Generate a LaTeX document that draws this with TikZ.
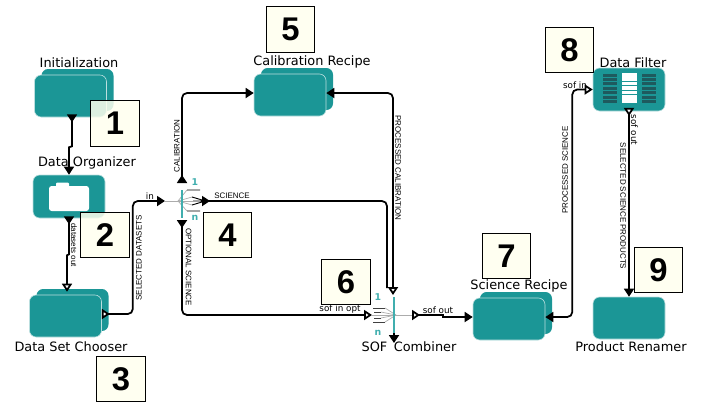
\documentclass[tikz,border=0pt]{standalone}
\usepackage{fontspec}
\setmainfont{DejaVu Sans}
\newfontfamily\narrowfont{Liberation Sans}
\usetikzlibrary{arrows.meta,shadows}

\definecolor{boxteal}{RGB}{27,150,150}
\definecolor{barteal}{RGB}{30,90,94}
\definecolor{portteal}{RGB}{64,174,174}
\definecolor{notecream}{RGB}{255,255,238}

\begin{document}
\begin{tikzpicture}[
    x=0.3mm, y=-0.3mm,
    actor/.style={rectangle, rounded corners=2mm, fill=boxteal, draw=white!70!boxteal, line width=0.5pt, minimum width=21.6mm, minimum height=12.6mm, inner sep=0pt},
    stacked/.style={actor, copy shadow={shadow xshift=2.1mm, shadow yshift=1.8mm, draw=none}},
    numbox/.style={rectangle, draw, line width=0.8pt, fill=notecream, fill opacity=0.85, text opacity=1, minimum width=14.6mm, minimum height=13.6mm, inner sep=0pt, font=\narrowfont\bfseries\fontsize{28}{28}\selectfont},
    title/.style={inner sep=0pt, font=\fontsize{11}{12}\selectfont},
    caplabel/.style={inner sep=0pt, font=\narrowfont\fontsize{6.8}{7}\selectfont},
    portlabel/.style={inner sep=0pt, font=\fontsize{7.5}{8}\selectfont},
    multi/.style={inner sep=0pt, text=portteal, font=\bfseries\fontsize{8}{9}\selectfont},
    wire/.style={line width=1.5pt, rounded corners=1.5mm},
    fan/.style={gray!65, line width=0.6pt},
    fulltri/.tip={Triangle[length=2.4mm, width=3mm]},
    opentri/.tip={Triangle[open, length=2.4mm, width=3mm, fill=white]}
]
\useasboundingbox (0,0) rectangle (706,403);

% Initialization
\node[stacked] (init) at (70.5,96) {};
\node[title] (initlbl) at (79,63) {Initialization};

% Data Organizer
\node[actor, minimum height=12.9mm] (dorg) at (69,196.5) {};
\node[title] (dorglbl) at (87,163) {Data Organizer};
\fill[white, rounded corners=0.8mm] (49,186) rectangle (89,211);
\fill[white, rounded corners=0.3mm] (56,182.5) rectangle (69,188);

% Data Set Chooser
\node[stacked] (dsc) at (65.5,316) {};
\node[title] (dsclbl) at (71,347) {Data Set Chooser};

% Calibration Recipe
\node[stacked] (calib) at (290,95) {};
\node[title] (caliblbl) at (312,62) {Calibration Recipe};

% Science Recipe
\node[stacked] (sci) at (509,319) {};
\node[title] (scilbl) at (519,286) {Science Recipe};

% Data Filter
\node[actor, minimum height=12.9mm] (dfilt) at (629,89.5) {};
\node[title] (dfiltlbl) at (633,63) {Data Filter};
\foreach \r in {0,...,6} {
  \fill[barteal] (603,{73.5+4.4*\r}) rectangle (617,{76.5+4.4*\r});
  \fill[white] (622,{73+4.4*\r}) rectangle (637,{76.6+4.4*\r});
  \fill[barteal] (642,{73.5+4.4*\r}) rectangle (656,{76.5+4.4*\r});
}

% Product Renamer
\node[actor] (renam) at (629,318) {};
\node[title] (renamlbl) at (631,347) {Product Renamer};

% Splitter ports
\coordinate (sp4) at (178,201);
\coordinate (sp4-in) at (165,201);
\coordinate (sp4-up) at (182,183);
\coordinate (sp4-sci) at (202,201);
\coordinate (sp4-down) at (182,220);
\coordinate (sp6) at (396,315);
\coordinate (sp6-top) at (393,295);
\coordinate (sp6-join) at (387,288);
\coordinate (sp6-in) at (372,315);
\coordinate (sp6-out) at (412,315);
\coordinate (sp6-down) at (394,333);
\coordinate (sp6-end) at (394,343);

% Splitter 4
\draw[fan] (sp4-in) -- (sp4);
\foreach \yy/\xx in {190/187, 197/192, 201/193, 205/192, 211/187} \draw[fan] (sp4) -- (\xx,\yy);
\draw[line width=0.8pt] (187,190) -- (200,190) (187,211) -- (200,211) (192,197) -- (202,200) (193,201) -- (202,201) (192,205) -- (202,202);
\draw[portteal, line width=1pt] (182,190) -- (182,218);
\node[multi] (one4) at (195,182) {1};
\node[multi] (many4) at (195,218) {n};

% Splitter 6 (SOF Combiner)
\draw[fan] (sp6-in) -- (sp6) -- (sp6-out);
\foreach \yy/\xx in {308/385, 312/381, 318/381, 322/385} \draw[fan] (sp6) -- (\xx,\yy);
\draw[line width=0.8pt, black!75] (373,308) -- (385,308) (374,312) -- (381,312) (374,318) -- (381,318) (373,322) -- (385,322);
\draw[portteal, line width=1pt] (394,297) -- (394,333);
\node[multi] (one6) at (378,297) {1};
\node[multi] (many6) at (378,333) {n};
\node[title] (sofcomblbl) at (409,347) {SOF\enspace Combiner};

% Arrows
\draw[wire, sharp corners, {fulltri[reversed]}-{fulltri}] ([xshift=0.45mm,yshift=0.9mm]init.south) -- ++(0,32) -- ++(-3,1) -- (dorg.north);
\draw[wire, sharp corners, {fulltri[reversed]}-{opentri}] ([yshift=0.6mm]dorg.south) -- ++(0,38) -- ++(-2,1) -- ([xshift=0.45mm,yshift=0.9mm]dsc.north);
\draw[wire, {opentri[reversed]}-{fulltri}] ([yshift=0.6mm]dsc.east) -- ++(31,0) |- (sp4-in);
\draw[wire, {fulltri[reversed]}-{fulltri}] (sp4-up) |- ([yshift=0.6mm]calib.west);
\draw[wire, {fulltri}-{opentri}] ([yshift=0.6mm]calib.east) -| (sp6-top);
\draw[wire, {fulltri[reversed]}-] (sp4-sci) -| (sp6-join);
\draw[wire, {fulltri[reversed]}-{opentri}] (sp4-down) |- (sp6-in);
\draw[wire, -{fulltri}] (sp6-down) -- (sp6-end);
\draw[wire, sharp corners, {opentri[reversed]}-{fulltri}] (sp6-out) -- ++(31,0) -- ++(0,2) -- ([yshift=0.6mm]sci.west);
\draw[wire, {fulltri}-{opentri}] ([yshift=0.6mm]sci.east) -- ++(27,0) |- (dfilt.west);
\draw[wire, {opentri[reversed]}-{fulltri}] ([yshift=1mm]dfilt.south) -- (renam.north);

% Connector labels
\node[portlabel] (inlbl) at (150,196) {in};
\node[caplabel, rotate=-90] (dsoutlbl) at (74,245) {datasets out};
\node[caplabel, rotate=90] (seldslbl) at (139,258) {SELECTED DATASETS};
\node[caplabel, rotate=90] (callbl) at (177,146) {CALIBRATION};
\node[caplabel] (sciencelbl) at (232,196) {SCIENCE};
\node[caplabel, rotate=-90] (optlbl) at (188.5,267) {OPTIONAL SCIENCE};
\node[caplabel, rotate=-90] (proccallbl) at (398,168) {PROCESSED CALIBRATION};
\node[portlabel] (sofoptlbl) at (340,309) {sof in opt};
\node[portlabel] (sofoutlbl) at (438,310) {sof out};
\node[caplabel, rotate=90] (procscilbl) at (565,170) {PROCESSED SCIENCE};
\node[portlabel] (sofinlbl) at (575,85) {sof in};
\node[portlabel, rotate=-90] (dfoutlbl) at (634.5,130) {sof out};
\node[caplabel, rotate=-90] (selsplbl) at (623,206) {SELECTED SCIENCE PRODUCTS};

% Step numbers
\node[numbox] (n1) at (115,123.5) {1};
\node[numbox] (n2) at (105,235) {2};
\node[numbox] (n3) at (121,379) {3};
\node[numbox] (n4) at (227.5,235) {4};
\node[numbox] (n5) at (290.5,29.5) {5};
\node[numbox] (n6) at (346,282) {6};
\node[numbox] (n7) at (506.5,256) {7};
\node[numbox] (n8) at (569.5,50) {8};
\node[numbox] (n9) at (658.5,270) {9};

\end{tikzpicture}
\end{document}
